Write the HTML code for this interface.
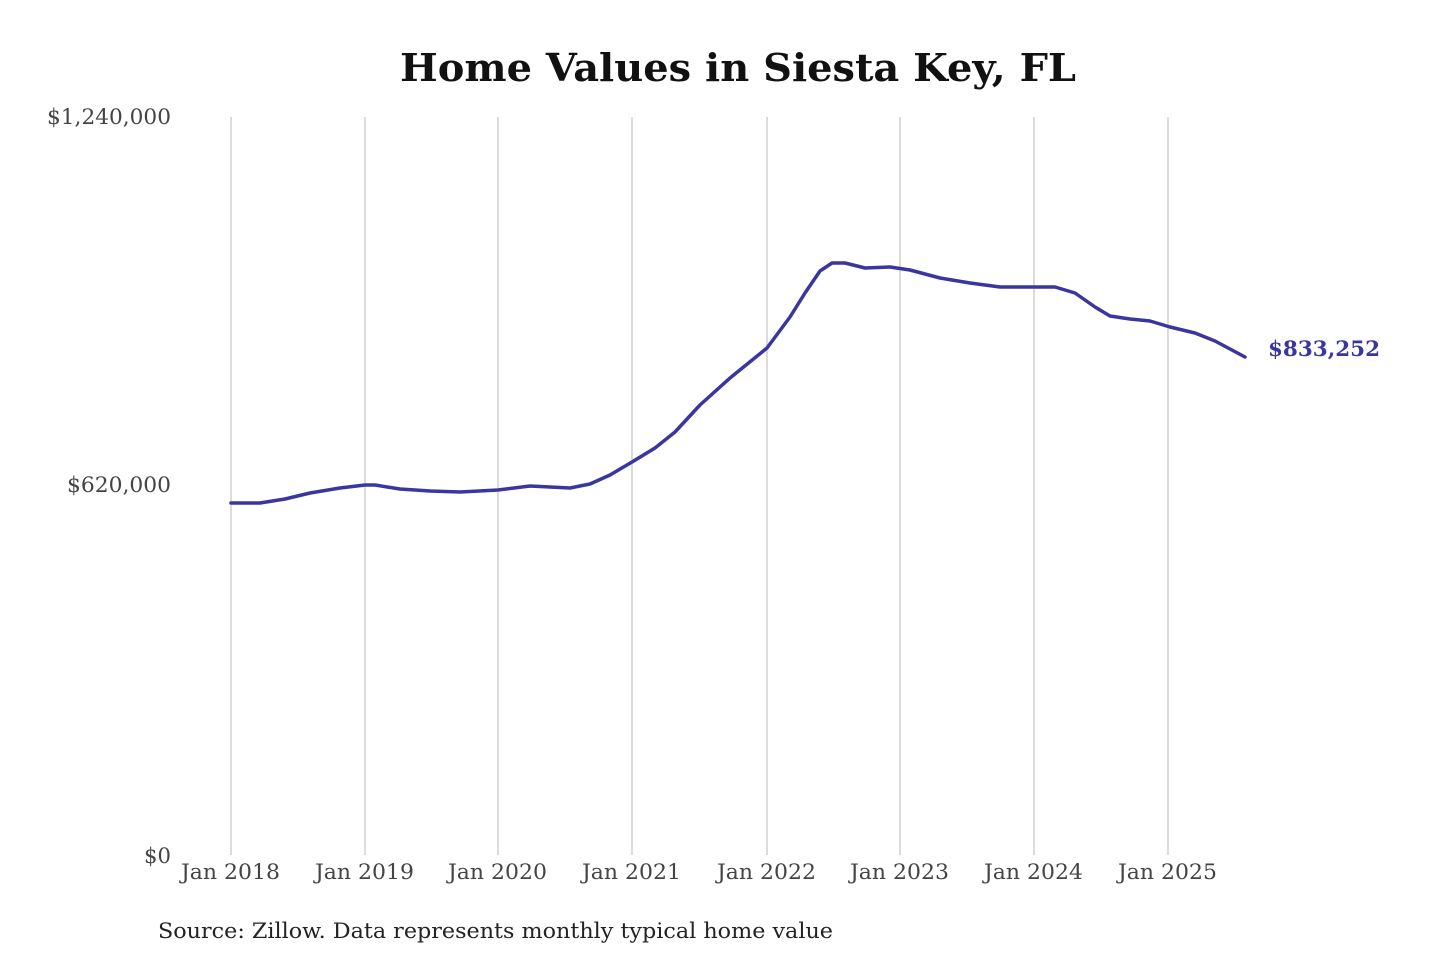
<!DOCTYPE html>
<html><head><meta charset="utf-8"><style>
html,body{margin:0;padding:0;background:#fff}
svg{display:block}
text{font-family:"DejaVu Serif","Liberation Serif",serif}
</style></head><body>
<svg width="1440" height="960" viewBox="0 0 1440 960" xmlns="http://www.w3.org/2000/svg">
<rect width="1440" height="960" fill="#fff"/>
<text x="400" y="81" font-size="38" font-weight="bold" fill="#111" textLength="676" lengthAdjust="spacingAndGlyphs">Home Values in Siesta Key, FL</text>
<g stroke="#c8c8c8" stroke-width="1.3">
<line x1="231" y1="117" x2="231" y2="855"/>
<line x1="365" y1="117" x2="365" y2="855"/>
<line x1="498" y1="117" x2="498" y2="855"/>
<line x1="632" y1="117" x2="632" y2="855"/>
<line x1="767" y1="117" x2="767" y2="855"/>
<line x1="900" y1="117" x2="900" y2="855"/>
<line x1="1034" y1="117" x2="1034" y2="855"/>
<line x1="1168" y1="117" x2="1168" y2="855"/>
</g>
<g font-size="21" fill="#444">
<text x="47" y="124" textLength="124" lengthAdjust="spacingAndGlyphs">$1,240,000</text>
<text x="67" y="492" textLength="104" lengthAdjust="spacingAndGlyphs">$620,000</text>
<text x="144" y="863" textLength="27" lengthAdjust="spacingAndGlyphs">$0</text>
</g>
<g font-size="21" fill="#444">
<text x="181" y="879" textLength="99" lengthAdjust="spacingAndGlyphs">Jan 2018</text>
<text x="315" y="879" textLength="99" lengthAdjust="spacingAndGlyphs">Jan 2019</text>
<text x="448" y="879" textLength="99" lengthAdjust="spacingAndGlyphs">Jan 2020</text>
<text x="582" y="879" textLength="99" lengthAdjust="spacingAndGlyphs">Jan 2021</text>
<text x="717" y="879" textLength="99" lengthAdjust="spacingAndGlyphs">Jan 2022</text>
<text x="850" y="879" textLength="99" lengthAdjust="spacingAndGlyphs">Jan 2023</text>
<text x="984" y="879" textLength="99" lengthAdjust="spacingAndGlyphs">Jan 2024</text>
<text x="1118" y="879" textLength="99" lengthAdjust="spacingAndGlyphs">Jan 2025</text>
</g>
<polyline fill="none" stroke="#3b35a0" stroke-width="3.5" stroke-linejoin="round" stroke-linecap="round"
points="231,503 260,503 285,499 310,493 340,488 365,485 375,485 400,489 430,491 460,492 498,490 530,486 550,487 570,488 590,484 610,475 632,462 655,448 675,432 700,405 730,378 767,348 790,317 805,293 820,271 832,263 845,263 865,268 890,267 910,270 940,278 970,283 1000,287 1034,287 1055,287 1075,293 1095,307 1110,316 1130,319 1150,321 1170,327 1195,333 1215,341 1245,357"/>
<text x="1268" y="356" font-size="21" font-weight="bold" fill="#3b35a0" textLength="112" lengthAdjust="spacingAndGlyphs">$833,252</text>
<text x="158" y="938" font-size="21" fill="#222" textLength="675" lengthAdjust="spacingAndGlyphs">Source: Zillow. Data represents monthly typical home value</text>
</svg>
</body></html>
